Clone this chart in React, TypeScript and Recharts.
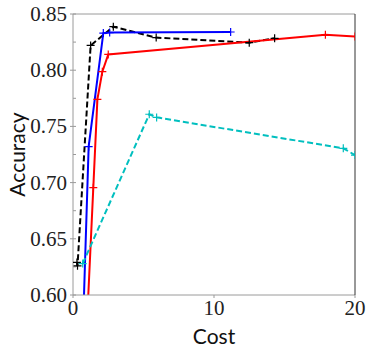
import { LineChart, Line, XAxis, YAxis } from 'recharts'

const blackCost = [0.28, 0.32, 1.25, 2.86, 5.9, 12.5, 14.3]
const blackAcc = [0.629, 0.626, 0.822, 0.8387, 0.829, 0.8245, 0.8284]

const blueCost = [0.73, 1.11, 2.15, 2.6, 11.18]
const blueAcc = [0.58, 0.732, 0.833, 0.8335, 0.834]

const redCost = [1.01, 1.44, 1.73, 2.08, 2.5, 17.9, 20]
const redAcc = [0.58, 0.6955, 0.774, 0.7987, 0.814, 0.8316, 0.83]

const cyanCost = [0.69, 5.41, 5.93, 19.17, 20]
const cyanAcc = [0.628, 0.7608, 0.758, 0.7305, 0.7245]

const xTicks = [0, 10, 20]
const xMinorTicks = [0, 2, 4, 6, 8, 10, 12, 14, 16, 18, 20]
const yTicks = [0.6, 0.65, 0.7, 0.75, 0.8, 0.85]
const yMinorTicks = [
  0.6, 0.6125, 0.625, 0.6375, 0.65, 0.6625, 0.675, 0.6875, 0.7, 0.7125, 0.725, 0.7375,
  0.75, 0.7625, 0.775, 0.7875, 0.8, 0.8125, 0.825, 0.8375, 0.85
]

const toPoints = (xs: number[], ys: number[]) => xs.map((cost, i) => ({ cost, acc: ys[i] }))

const SERIES = [
  { key: 'black', data: toPoints(blackCost, blackAcc), color: '#000000', dash: '6 3' },
  { key: 'blue', data: toPoints(blueCost, blueAcc), color: '#0000ff', dash: undefined },
  { key: 'red', data: toPoints(redCost, redAcc), color: '#ff0000', dash: undefined },
  { key: 'cyan', data: toPoints(cyanCost, cyanAcc), color: '#00bfbf', dash: '6 3' }
]

const SPINE = '#9a9a9a'
const SERIF = '"Liberation Serif", "DejaVu Serif", serif'
const SANS = 'Lato, "DejaVu Sans", sans-serif'

const PlusDot = (props: any) => {
  const { cx, cy, stroke } = props
  if (cx == null || cy == null) return null
  return (
    <path
      d={`M${cx - 4},${cy}H${cx + 4}M${cx},${cy - 4}V${cy + 4}`}
      stroke={stroke}
      strokeWidth={1.2}
      fill="none"
    />
  )
}

const renderXTick = (props: any) => (
  <text
    key={`xt-${props.payload.value}`}
    x={props.x}
    y={props.y}
    dy={15}
    textAnchor="middle"
    fontFamily={SERIF}
    fontSize={21}
    fill="#222"
  >
    {props.payload.value}
  </text>
)

const renderYTick = (props: any) => (
  <text
    key={`yt-${props.payload.value}`}
    x={props.x}
    y={props.y}
    dy={7}
    textAnchor="end"
    fontFamily={SERIF}
    fontSize={21}
    fill="#222"
  >
    {Number(props.payload.value).toFixed(2)}
  </text>
)

const renderNothing = (props: any) => <g key={`n-${props.index}`} />

const XTitle = (props: any) => {
  const vb = props.viewBox
  return (
    <text
      x={vb.x + vb.width / 2}
      y={vb.y + 40}
      textAnchor="middle"
      dominantBaseline="central"
      fontFamily={SANS}
      fontSize={21}
      fill="#111"
    >
      Cost
    </text>
  )
}

const YTitle = (props: any) => {
  const vb = props.viewBox
  const x = 16
  const y = vb.y + vb.height / 2
  return (
    <text
      x={x}
      y={y}
      transform={`rotate(-90 ${x} ${y})`}
      textAnchor="middle"
      dominantBaseline="central"
      fontFamily={SANS}
      fontSize={21}
      fill="#111"
    >
      Accuracy
    </text>
  )
}

export default function App() {
  return (
    <div style={{ position: 'absolute', left: 0, top: 0, background: '#fff' }}>
      <LineChart width={374} height={347} margin={{ top: 14, right: 19, bottom: 0, left: 0 }}>
        <XAxis
          xAxisId="x"
          dataKey="cost"
          type="number"
          domain={[0, 20]}
          allowDataOverflow
          ticks={xTicks}
          tickSize={3}
          tickMargin={2}
          height={52}
          stroke={SPINE}
          tick={renderXTick}
          label={<XTitle />}
        />
        <XAxis
          xAxisId="xMinor"
          type="number"
          domain={[0, 20]}
          allowDataOverflow
          ticks={xMinorTicks}
          mirror
          tick={renderNothing}
          axisLine={false}
          tickSize={3}
          stroke={SPINE}
        />
        <XAxis
          xAxisId="top"
          type="number"
          orientation="top"
          domain={[0, 20]}
          mirror
          tick={false}
          tickLine={false}
          stroke={SPINE}
        />
        <YAxis
          yAxisId="y"
          type="number"
          domain={[0.6, 0.85]}
          allowDataOverflow
          ticks={yTicks}
          tickSize={3}
          tickMargin={3}
          width={73}
          stroke={SPINE}
          tick={renderYTick}
          label={<YTitle />}
        />
        <YAxis
          yAxisId="yMinor"
          type="number"
          domain={[0.6, 0.85]}
          allowDataOverflow
          ticks={yMinorTicks}
          mirror
          tick={renderNothing}
          axisLine={false}
          tickSize={3}
          stroke={SPINE}
        />
        <YAxis
          yAxisId="right"
          type="number"
          orientation="right"
          domain={[0.6, 0.85]}
          mirror
          tick={false}
          tickLine={false}
          stroke="#333"
        />
        {SERIES.map((s) => (
          <Line
            key={s.key}
            xAxisId="x"
            yAxisId="y"
            data={s.data}
            dataKey="acc"
            stroke={s.color}
            strokeWidth={2}
            strokeDasharray={s.dash}
            dot={<PlusDot stroke={s.color} />}
            activeDot={false}
            isAnimationActive={false}
          />
        ))}
      </LineChart>
    </div>
  )
}
